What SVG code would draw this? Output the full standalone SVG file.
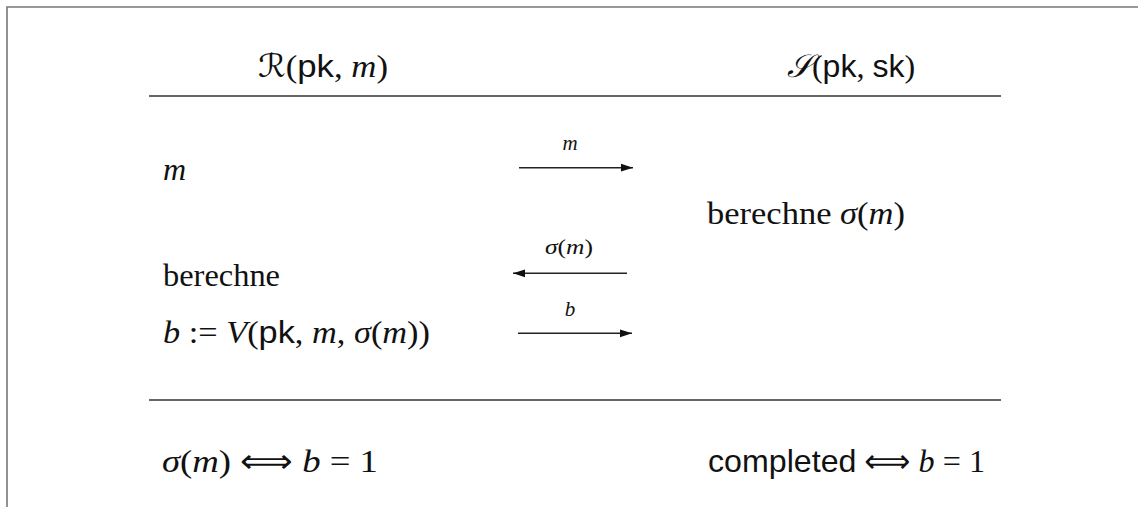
<svg xmlns="http://www.w3.org/2000/svg" width="1138" height="507" viewBox="0 0 1138 507">
<style>
text{font-family:"Liberation Serif","DejaVu Serif",serif;font-size:32px;fill:#111}
.it{font-style:italic}
.sf{font-family:"Liberation Sans","DejaVu Sans",sans-serif;font-style:normal}
.cal{font-family:"DejaVu Serif","DejaVu Sans",serif;font-style:italic}
.sym{font-family:"DejaVu Sans",sans-serif;font-style:normal}
.lbl{font-size:21px}
.frame{stroke:#777;stroke-width:1.6;fill:none}
.rule{stroke:#333;stroke-width:1.4;fill:none}
.msg{stroke:#222;stroke-width:1.5;fill:none;marker-end:url(#ah)}
</style>
<defs>
<marker id="ah" markerUnits="userSpaceOnUse" markerWidth="13" markerHeight="10" refX="12" refY="4.5" orient="auto">
<path d="M0,0.6 L12,4.5 L0,8.4 Z" fill="#111"/>
</marker>
</defs>
<g id="frame">
<path class="frame" d="M7,507 V7 H1138"/>
</g>
<g id="header-R">
<text x="258" y="77" textLength="130" lengthAdjust="spacingAndGlyphs"><tspan class="cal">ℛ</tspan>(<tspan class="sf">pk</tspan>, <tspan class="it">m</tspan>)</text>
</g>
<g id="header-S">
<text x="851" y="77" font-size="30" text-anchor="middle"><tspan class="cal">𝒮</tspan>(<tspan class="sf">pk</tspan>, <tspan class="sf">sk</tspan>)</text>
</g>
<g id="rules">
<line class="rule" x1="149" y1="96" x2="1001" y2="96"/>
<line class="rule" x1="149" y1="400" x2="1001" y2="400"/>
</g>
<g id="receiver-m">
<text x="163" y="180" class="it">m</text>
</g>
<g id="sender-compute">
<text x="707" y="224" textLength="198" lengthAdjust="spacingAndGlyphs">berechne <tspan class="it">σ</tspan>(<tspan class="it">m</tspan>)</text>
</g>
<g id="receiver-compute">
<text x="163" y="286" textLength="117" lengthAdjust="spacingAndGlyphs">berechne</text>
<text x="163" y="343" textLength="267" lengthAdjust="spacingAndGlyphs"><tspan class="it">b</tspan> := <tspan class="it">V</tspan>(<tspan class="sf">pk</tspan>, <tspan class="it">m</tspan>, <tspan class="it">σ</tspan>(<tspan class="it">m</tspan>))</text>
</g>
<g id="connectors">
<path class="msg" d="M519,167.7 H633"/>
<text class="lbl it" x="570" y="150" text-anchor="middle">m</text>
<path class="msg" d="M627,273.3 H513"/>
<text class="lbl" x="545" y="254" textLength="48" lengthAdjust="spacingAndGlyphs"><tspan class="it">σ</tspan>(<tspan class="it">m</tspan>)</text>
<path class="msg" d="M518,333.3 H632"/>
<text class="lbl it" x="570" y="316" text-anchor="middle">b</text>
</g>
<g id="result-R">
<text x="162" y="472" textLength="216" lengthAdjust="spacingAndGlyphs"><tspan class="it">σ</tspan>(<tspan class="it">m</tspan>) <tspan class="sym">⟺</tspan> <tspan class="it">b</tspan> = 1</text>
</g>
<g id="result-S">
<text x="708" y="472" textLength="277" lengthAdjust="spacingAndGlyphs"><tspan class="sf">completed</tspan> <tspan class="sym">⟺</tspan> <tspan class="it">b</tspan> = 1</text>
</g>
</svg>
